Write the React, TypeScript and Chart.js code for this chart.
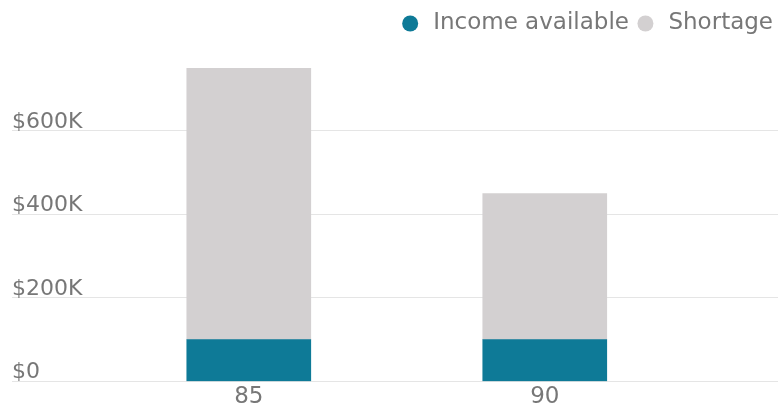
import React, { useEffect, useRef } from "react";
import { Chart, registerables } from "chart.js";

Chart.register(...registerables);

const AGES = [85, 90];
const INCOME_AVAILABLE = [100000, 100000];
const SHORTAGE = [650000, 350000];
const Y_TICKS = [0, 200000, 400000, 600000];

const TEAL = "#0e7a97";
const GREY = "#d3d0d1";
const TEXT = "#777777";
const FONT = "DejaVu Sans";

function fmt(v: number) {
  if (v === 0) return "$0";
  return "$" + Math.round(v / 1000) + "K";
}

export default function App() {
  const ref = useRef<HTMLCanvasElement | null>(null);
  useEffect(() => {
    document.body.style.margin = "0";
    const ctx = ref.current!;
    const chart = new Chart(ctx, {
      type: "bar",
      data: {
        datasets: [
          {
            label: "Income available",
            data: AGES.map((a, i) => ({ x: a, y: INCOME_AVAILABLE[i] })),
            backgroundColor: TEAL,
            barThickness: 124,
          },
          {
            label: "Shortage",
            data: AGES.map((a, i) => ({ x: a, y: SHORTAGE[i] })),
            backgroundColor: GREY,
            barThickness: 124,
          },
        ],
      },
      options: {
        animation: false,
        responsive: false,
        maintainAspectRatio: false,
        layout: { padding: { left: 12, right: 0, top: 7, bottom: -5 } },
        plugins: {
          legend: {
            position: "top",
            align: "end",
            labels: {
              usePointStyle: true,
              pointStyle: "circle",
              boxWidth: 23,
              boxHeight: 11.3,
              color: TEXT,
              font: { family: FONT, size: 23 },
              padding: 5,
            },
          },
          tooltip: { enabled: false },
        },
        scales: {
          x: {
            type: "linear",
            min: 81,
            max: 93.94,
            stacked: true,
            offset: false,
            grid: { display: false, drawTicks: false, tickLength: 0 },
            border: { display: false },
            afterBuildTicks: (scale: any) => {
              scale.ticks = AGES.map((v) => ({ value: v }));
            },
            ticks: {
              color: TEXT,
              font: { family: FONT, size: 23 },
              padding: 2,
              maxRotation: 0,
              callback: (v: any) => String(v),
            },
          },
          y: {
            stacked: true,
            min: 0,
            max: 806000,
            afterBuildTicks: (scale: any) => {
              scale.ticks = Y_TICKS.map((v) => ({ value: v }));
            },
            grid: { color: "#e5e5e5", drawTicks: false, tickLength: 0 },
            border: { display: false },
            ticks: {
              mirror: true,
              padding: 0,
              labelOffset: -9,
              color: TEXT,
              font: { family: FONT, size: 22 },
              callback: (v: any) => fmt(Number(v)),
            },
          },
        },
      },
    });
    return () => chart.destroy();
  }, []);
  return (
    <div style={{ width: 778, height: 408 }}>
      <canvas ref={ref} width={778} height={408} />
    </div>
  );
}
